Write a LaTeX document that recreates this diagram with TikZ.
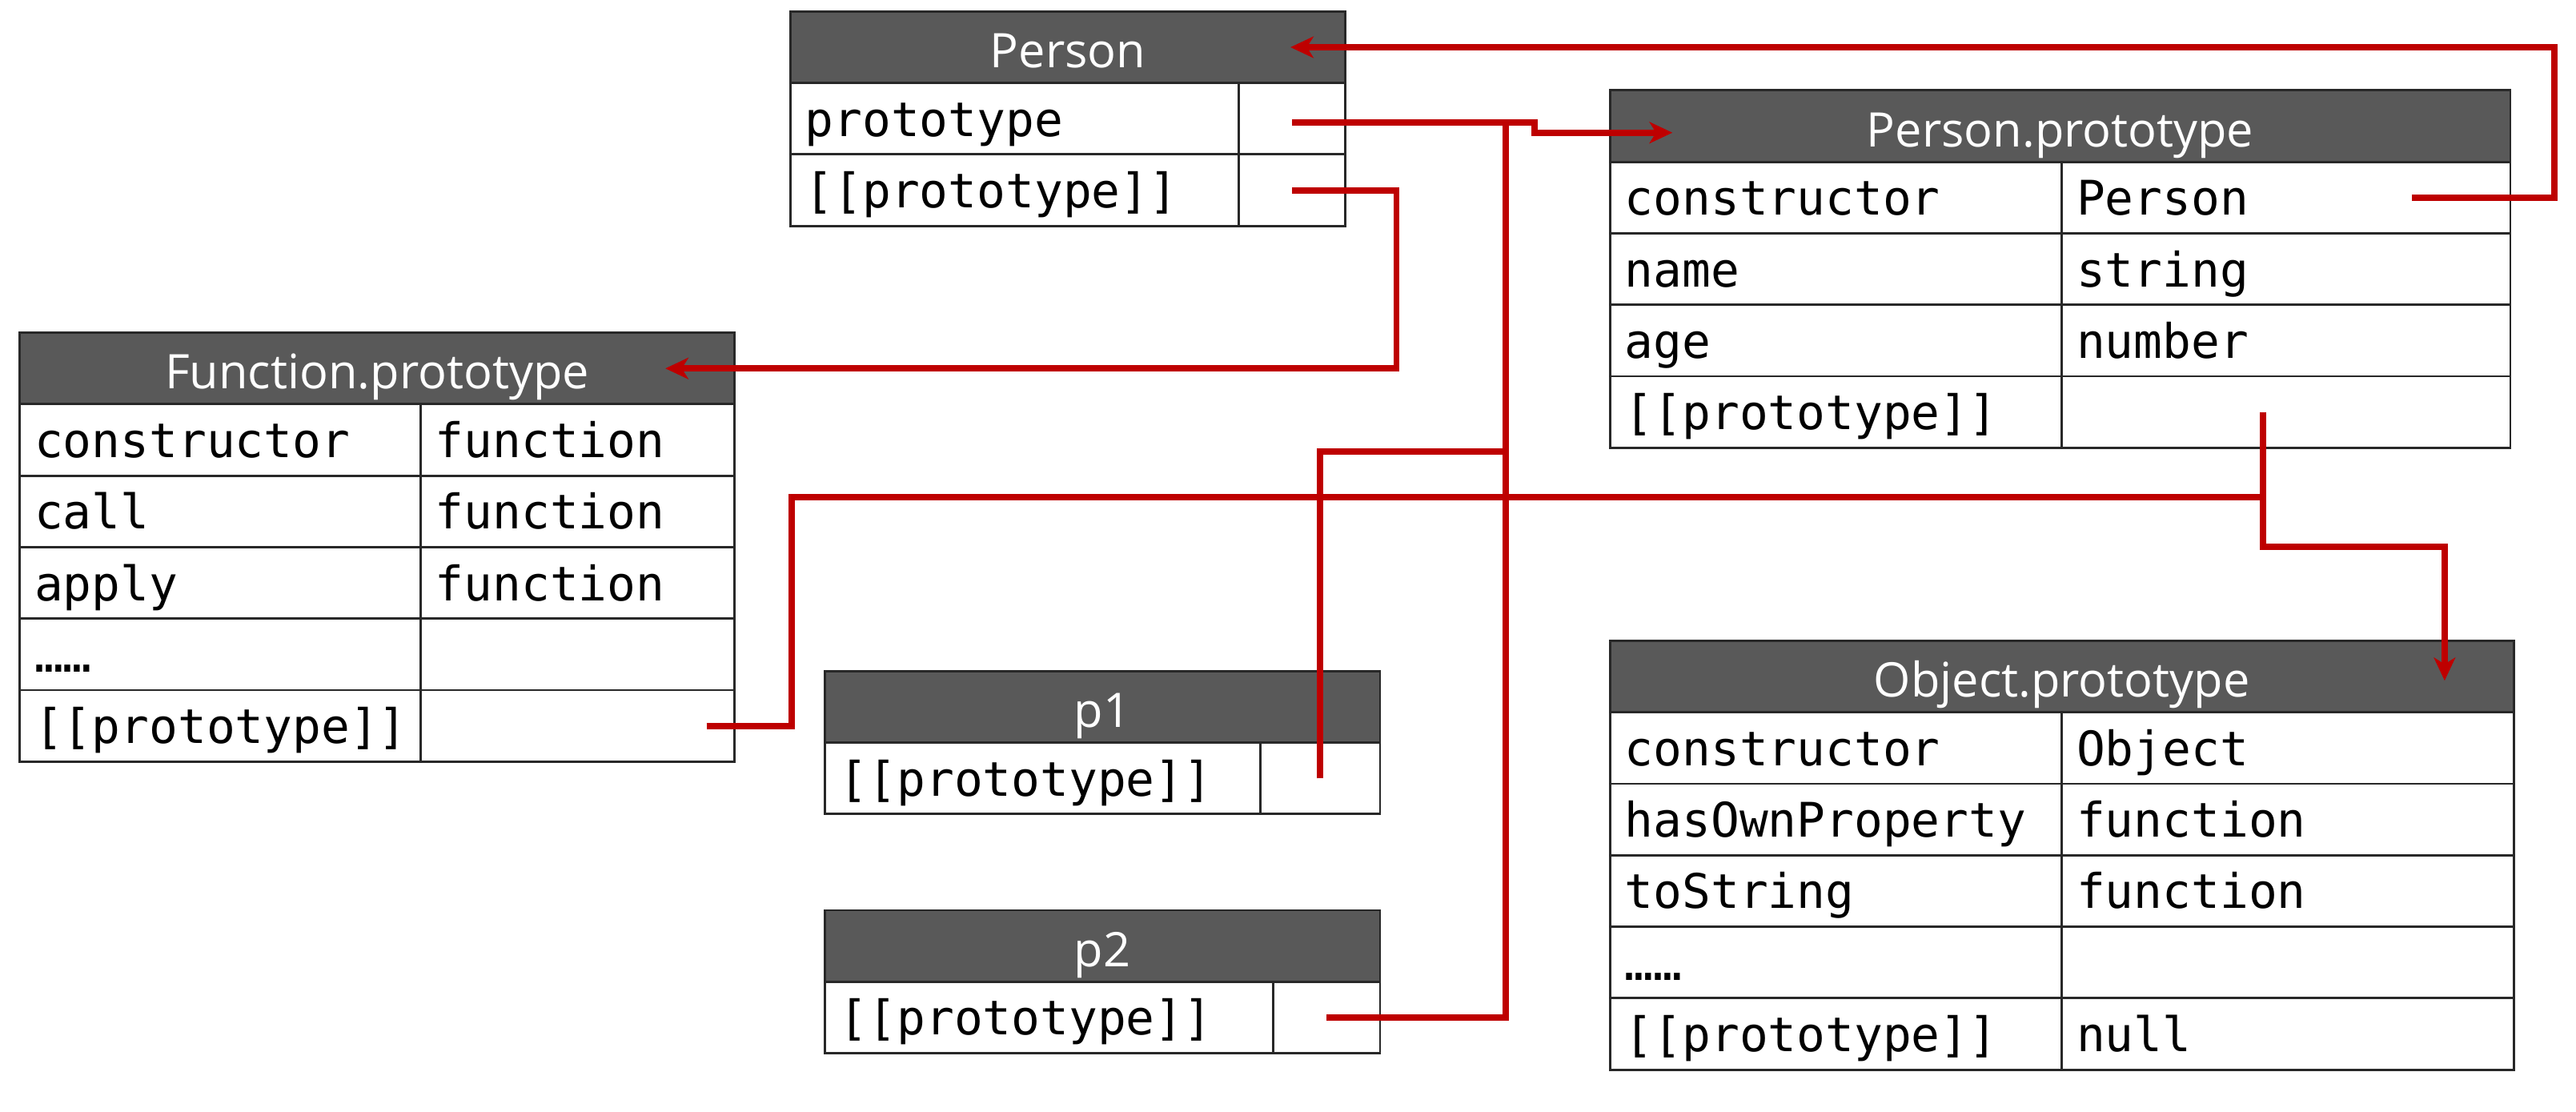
\documentclass[tikz,border=0pt]{standalone}
\usepackage{fontspec}
\setmainfont{Open Sans}
\newfontfamily\codefont{DejaVu Sans Mono}
\usepackage{tikz}
\usetikzlibrary{arrows.meta,positioning}
\definecolor{headgray}{RGB}{89,89,89}
\definecolor{edgegray}{RGB}{40,40,40}
\definecolor{linkred}{RGB}{190,0,0}

\begin{document}
\begin{tikzpicture}[
  hdr/.style={draw=edgegray, line width=0.8pt, fill=headgray, text=white, anchor=north west, outer sep=0pt, minimum height=0.87cm, inner sep=0pt, text height=0.6cm, text depth=0.1cm, font=\fontsize{16.5}{19}\selectfont},
  cell/.style={draw=edgegray, line width=0.8pt, fill=white, outer sep=0pt, minimum height=0.87cm, inner xsep=0.18cm, inner ysep=0pt, text width=#1, text height=0.52cm, text depth=0.09cm, align=left, font=\codefont\fontsize{16.5}{19}\selectfont},
  link/.style={draw=linkred, line width=2.2pt, -{Stealth[length=0.28cm, width=0.26cm, inset=0.08cm]}},
  wire/.style={draw=linkred, line width=2.2pt}
]
\fill[white] (0,0) rectangle (31.36,-13.527);
\useasboundingbox (0,0) rectangle (31.36,-13.527);

\node[hdr, minimum width=6.76cm] (person) at (9.62,-0.14) {Person};
\node[cell=5.10cm, below right=0pt and 0pt of person.south west] (pk1) {prototype};
\node[cell=0.94cm, right=0pt of pk1] (pv1) {};
\node[cell=5.10cm, below=0pt of pk1] (pk2) {[[prototype]]};
\node[cell=0.94cm, right=0pt of pk2] (pv2) {};

\node[hdr, minimum width=10.96cm] (pp) at (19.60,-1.10) {Person.prototype};
\node[cell=5.14cm, below right=0pt and 0pt of pp.south west] (ppk1) {constructor};
\node[cell=5.10cm, right=0pt of ppk1] (ppv1) {Person};
\node[cell=5.14cm, below=0pt of ppk1] (ppk2) {name};
\node[cell=5.10cm, right=0pt of ppk2] (ppv2) {string};
\node[cell=5.14cm, below=0pt of ppk2] (ppk3) {age};
\node[cell=5.10cm, right=0pt of ppk3] (ppv3) {number};
\node[cell=5.14cm, below=0pt of ppk3] (ppk4) {[[prototype]]};
\node[cell=5.10cm, right=0pt of ppk4] (ppv4) {};

\node[hdr, minimum width=8.70cm] (fp) at (0.24,-4.05) {Function.prototype};
\node[cell=4.52cm, below right=0pt and 0pt of fp.south west] (fpk1) {constructor};
\node[cell=3.46cm, right=0pt of fpk1] (fpv1) {function};
\node[cell=4.52cm, below=0pt of fpk1] (fpk2) {call};
\node[cell=3.46cm, right=0pt of fpk2] (fpv2) {function};
\node[cell=4.52cm, below=0pt of fpk2] (fpk3) {apply};
\node[cell=3.46cm, right=0pt of fpk3] (fpv3) {function};
\node[cell=4.52cm, below=0pt of fpk3] (fpk4) {……};
\node[cell=3.46cm, right=0pt of fpk4] (fpv4) {};
\node[cell=4.52cm, below=0pt of fpk4] (fpk5) {[[prototype]]};
\node[cell=3.46cm, right=0pt of fpk5] (fpv5) {};

\node[hdr, minimum width=11.00cm] (op) at (19.60,-7.80) {Object.prototype};
\node[cell=5.14cm, below right=0pt and 0pt of op.south west] (opk1) {constructor};
\node[cell=5.14cm, right=0pt of opk1] (opv1) {Object};
\node[cell=5.14cm, below=0pt of opk1] (opk2) {hasOwnProperty};
\node[cell=5.14cm, right=0pt of opk2] (opv2) {function};
\node[cell=5.14cm, below=0pt of opk2] (opk3) {toString};
\node[cell=5.14cm, right=0pt of opk3] (opv3) {function};
\node[cell=5.14cm, below=0pt of opk3] (opk4) {……};
\node[cell=5.14cm, right=0pt of opk4] (opv4) {};
\node[cell=5.14cm, below=0pt of opk4] (opk5) {[[prototype]]};
\node[cell=5.14cm, right=0pt of opk5] (opv5) {null};

\node[hdr, minimum width=6.76cm] (p1) at (10.04,-8.17) {p1};
\node[cell=4.94cm, below right=0pt and 0pt of p1.south west] (p1k) {[[prototype]]};
\node[cell=1.10cm, right=0pt of p1k] (p1v) {};

\node[hdr, minimum width=6.76cm] (p2) at (10.04,-11.08) {p2};
\node[cell=5.10cm, below right=0pt and 0pt of p2.south west] (p2k) {[[prototype]]};
\node[cell=0.94cm, right=0pt of p2k] (p2v) {};

\coordinate (jtop) at ([xshift=2.6cm, yshift=-0.05cm]pv1.center);
\coordinate (jpp) at ([xshift=-0.28cm, yshift=-1.04cm]ppv4.center);

\draw[link] ([xshift=-1.2cm]ppv1.east) -- ++(1.74cm,0) |- ([xshift=-0.67cm]person.east);
\draw[link] ([yshift=-0.05cm]pv1.center) -- ++(2.95cm,0) |- ([xshift=0.76cm, yshift=-0.08cm]pp.west);
\draw[wire] (p2v.center) -| (jtop);
\draw[wire] (p1v.center) -- ++(0,3.98cm) -| (jtop);
\draw[link] (pv2.center) -- ++(1.27cm,0) |- ([xshift=-0.84cm]fp.east);
\draw[link] ([xshift=-0.28cm]ppv4.center) -- ++(0,-1.64cm) -| ([xshift=-0.84cm, yshift=-0.05cm]op.east);
\draw[wire] ([xshift=-0.34cm]fpv5.east) -- ++(1.04cm,0) |- (jpp);
\end{tikzpicture}
\end{document}
